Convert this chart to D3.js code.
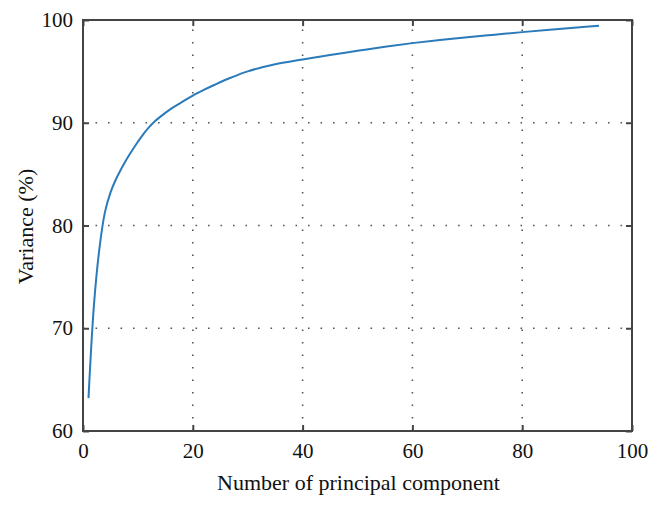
<!DOCTYPE html>
<html>
<head>
<meta charset="utf-8">
<script src="https://d3js.org/d3.v7.min.js"></script>
<style>
  body { margin:0; background:#fff; }
  svg { display:block; }
  text { font-family: "Liberation Serif", "DejaVu Serif", serif; fill:#111; }
  .grid line { stroke:#555; stroke-width:1.6; stroke-dasharray:1.6,10.9; }
</style>
</head>
<body>
<script>
// cumulative explained variance
var components = [1, 2, 3, 4, 5, 6, 7, 8, 9, 10, 11, 12, 13, 14, 16, 18, 20, 22, 24, 27, 30, 35, 40, 45, 50, 55, 60, 65, 70, 75, 80, 85, 90, 94];
var variance   = [63.2, 72.3, 77.8, 81.3, 83.2, 84.5, 85.55, 86.5, 87.35, 88.15, 88.9, 89.55, 90.1, 90.55, 91.35, 92.0, 92.65, 93.2, 93.7, 94.4, 95.0, 95.7, 96.15, 96.6, 97.0, 97.4, 97.75, 98.05, 98.32, 98.57, 98.82, 99.05, 99.27, 99.45];
var xTicks = [0, 20, 40, 60, 80, 100];
var yTicks = [60, 70, 80, 90, 100];

var width = 658, height = 508;
var margin = {top: 20, right: 26, bottom: 77, left: 83};
var w = width - margin.left - margin.right,
    h = height - margin.top - margin.bottom;

var svg = d3.select("body").append("svg")
    .attr("width", width)
    .attr("height", height);

var g = svg.append("g")
    .attr("transform", "translate(" + margin.left + "," + margin.top + ")");

var x = d3.scaleLinear().domain([0, 100]).range([0, w]);
var y = d3.scaleLinear().domain([60, 100]).range([h, 0]);

// dotted grid
var grid = g.append("g").attr("class", "grid");
grid.selectAll(".gx")
    .data(xTicks.slice(1, -1))
  .enter().append("line")
    .attr("x1", function(d) { return x(d); })
    .attr("x2", function(d) { return x(d); })
    .attr("y1", h)
    .attr("y2", 0);
grid.selectAll(".gy")
    .data(yTicks.slice(1, -1))
  .enter().append("line")
    .attr("x1", 0)
    .attr("x2", w)
    .attr("y1", function(d) { return y(d); })
    .attr("y2", function(d) { return y(d); });

// curve
var line = d3.line()
    .x(function(d, i) { return x(components[i]); })
    .y(function(d) { return y(d); })
    .curve(d3.curveCatmullRom.alpha(0.5));

g.append("path")
    .datum(variance)
    .attr("fill", "none")
    .attr("stroke", "#2b7bba")
    .attr("stroke-width", 2)
    .attr("d", line);

// axes with inward ticks, on all four sides
function styleAxis(sel) {
  sel.select(".domain").remove();
  sel.selectAll(".tick line").attr("stroke", "#444").attr("stroke-width", 2);
  sel.selectAll(".tick text").style("font-size", "21px").attr("fill", "#111");
}

g.append("g")
    .attr("transform", "translate(0," + h + ")")
    .call(d3.axisBottom(x).tickValues(xTicks).tickSizeInner(-6).tickSizeOuter(0).tickPadding(12))
    .call(styleAxis);
g.append("g")
    .call(d3.axisLeft(y).tickValues(yTicks).tickSizeInner(-6).tickSizeOuter(0).tickPadding(10))
    .call(styleAxis);
g.append("g")
    .call(d3.axisTop(x).tickValues(xTicks).tickSizeInner(-6).tickSizeOuter(0).tickFormat(""))
    .call(styleAxis);
g.append("g")
    .attr("transform", "translate(" + w + ",0)")
    .call(d3.axisRight(y).tickValues(yTicks).tickSizeInner(-6).tickSizeOuter(0).tickFormat(""))
    .call(styleAxis);

// frame
g.append("rect")
    .attr("width", w)
    .attr("height", h)
    .attr("fill", "none")
    .attr("stroke", "#444")
    .attr("stroke-width", 2);

// labels
svg.append("text")
    .attr("x", margin.left + w / 2 + 1)
    .attr("y", 490)
    .attr("text-anchor", "middle")
    .style("font-size", "22px")
    .text("Number of principal component");

svg.append("text")
    .attr("transform", "translate(33," + (margin.top + h / 2 + 1) + ") rotate(-90)")
    .attr("text-anchor", "middle")
    .style("font-size", "22px")
    .text("Variance (%)");
</script>
</body>
</html>
